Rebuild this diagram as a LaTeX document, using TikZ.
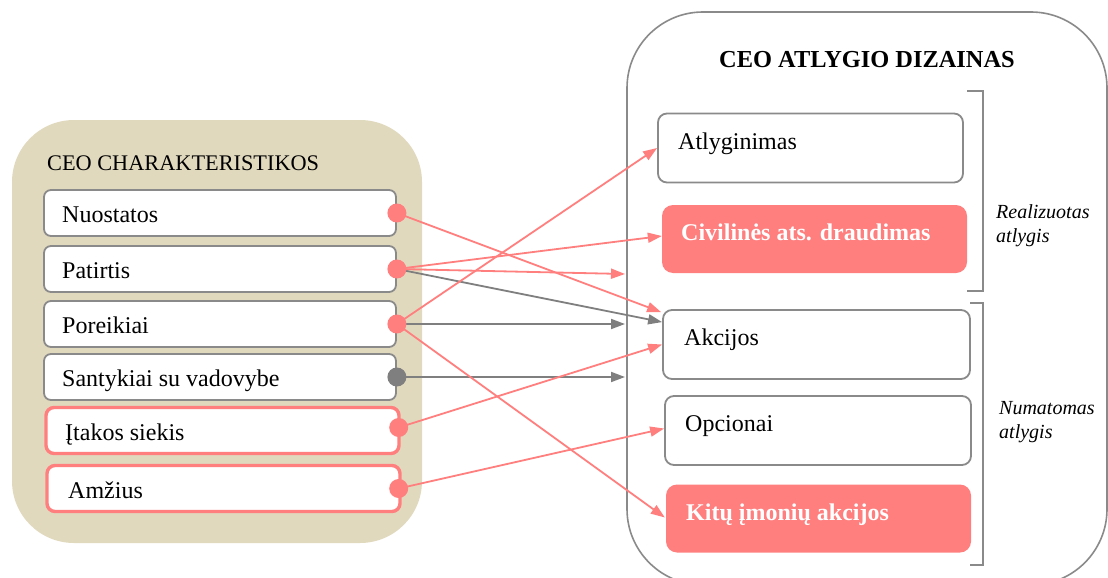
\documentclass[tikz,border=0pt]{standalone}
\usepackage{fontspec}
\setmainfont{Liberation Serif}
\usetikzlibrary{arrows.meta,calc}

\definecolor{panelbeige}{HTML}{E1D9BE}
\definecolor{accent}{HTML}{FF7F7F}
\definecolor{linegray}{HTML}{7F7F7F}
\definecolor{framegray}{HTML}{8A8A8A}

\tikzset{
  charbox/.style={draw=framegray, line width=1.8, fill=white, rounded corners=7,
    minimum width=352, minimum height=46, inner sep=0},
  keybox/.style={draw=accent, line width=3.4, fill=white, rounded corners=8,
    minimum width=353, minimum height=46, inner sep=0},
  paybox/.style={draw=framegray, line width=1.8, fill=white, rounded corners=9,
    minimum height=69, inner sep=0},
  hotbox/.style={fill=accent, rounded corners=11, minimum height=68, inner sep=0},
  boxtext/.style={font=\fontsize{24}{28}\selectfont, inner sep=0, anchor=base west},
  hottext/.style={font=\fontsize{24}{28}\selectfont\bfseries, text=white, inner sep=0, anchor=base west},
  sidetext/.style={font=\fontsize{20}{24}\selectfont\itshape, inner sep=0, anchor=base west},
  pinkarrow/.style={draw=accent, line width=1.8, -{Triangle[length=14,width=10]}},
  grayarrow/.style={draw=linegray, line width=1.8, -{Triangle[length=14,width=10]}},
  pinkdot/.style={circle, fill=accent, minimum size=19, inner sep=0},
  graydot/.style={circle, fill=linegray, minimum size=19, inner sep=0},
  bracketline/.style={draw=framegray, line width=1.6},
}

\begin{document}
\begin{tikzpicture}[x=1pt, y=-1pt]
\useasboundingbox (0,0) rectangle (1108,578);

% left panel: CEO characteristics
\fill[panelbeige, rounded corners=62] (12,120) rectangle (422,543);
\node[font=\fontsize{22.3}{26}\selectfont, inner sep=0, anchor=base west] (lefttitle) at (47,170) {CEO CHARAKTERISTIKOS};

\node[charbox] (nuo) at (220,213) {};
\node[charbox] (pat) at (220,269) {};
\node[charbox] (por) at (220,324) {};
\node[charbox] (san) at (220,377) {};
\node[keybox]  (ita) at (222.5,430.5) {};
\node[keybox]  (amz) at (223.5,488.5) {};

\node[boxtext] (nuot) at (62,222) {Nuostatos};
\node[boxtext] (patt) at (62,278) {Patirtis};
\node[boxtext] (port) at (62,333) {Poreikiai};
\node[boxtext] (sant) at (62,386) {Santykiai su vadovybe};
\node[boxtext] (itat) at (65,440) {Įtakos siekis};
\node[boxtext] (amzt) at (68,498) {Amžius};

% right panel: CEO pay design
\draw[draw=framegray, line width=1.6, rounded corners=76] (627,12) rectangle (1107,585);
\node[font=\fontsize{24.4}{28}\selectfont\bfseries, inner sep=0, anchor=base] (righttitle) at (867,67) {CEO ATLYGIO DIZAINAS};

\node[paybox, minimum width=305] (atl) at (810.5,148) {};
\node[hotbox, minimum width=305] (civ) at (814.5,239) {};
\node[paybox, minimum width=307] (akc) at (816.5,344.5) {};
\node[paybox, minimum width=306] (opc) at (818,430.5) {};
\node[hotbox, minimum width=305] (kit) at (818.5,518.5) {};

\node[boxtext] (atlt) at (678,149) {Atlyginimas};
\node[hottext] (civt) at (681,240) {Civilinės ats. draudimas};
\node[boxtext] (akct) at (684,345) {Akcijos};
\node[boxtext] (opct) at (685,431) {Opcionai};
\node[hottext] (kitt) at (686,520) {Kitų įmonių akcijos};

% group brackets
\draw[bracketline] (967,91) -- (983,91) -- (983,291) -- (967,291);
\draw[bracketline] (970,303) -- (983,303) -- (983,565) -- (970,565);
\node[sidetext] (real1) at (996,218) {Realizuotas};
\node[sidetext] (real2) at (996,242) {atlygis};
\node[sidetext] (num1) at (999,414) {Numatomas};
\node[sidetext] (num2) at (999,438) {atlygis};

% connector start points on the right edges of the left boxes
\coordinate (s1) at (nuo.east);
\coordinate (s2) at (pat.east);
\coordinate (s3) at (por.east);
\coordinate (s4) at (san.east);
\coordinate (s5) at ($(ita.east)+(-2,-3)$);
\coordinate (s6) at ($(amz.east)+(-3,0)$);

% free arrow ends at the panel edge
\coordinate (edgeA) at (625,274);
\coordinate (edgeB) at (625,324);
\coordinate (edgeC) at (625,377);

% connectors
\draw[grayarrow] (s2) -- ($(akc.north west)+(0,13)$);
\draw[grayarrow] (s3) -- (edgeB);
\draw[grayarrow] (s4) -- (edgeC);
\draw[pinkarrow] (s1) -- ($(akc.north west)+(-1,3)$);
\draw[pinkarrow] (s2) -- ($(civ.west)+(0,-3)$);
\draw[pinkarrow] (s2) -- (edgeA);
\draw[pinkarrow] (s3) -- (atl.west);
\draw[pinkarrow] (s3) -- ($(kit.west)+(-1,-1)$);
\draw[pinkarrow] (s5) -- (akc.west);
\draw[pinkarrow] (s6) -- ($(opc.west)+(0,-2)$);

% connector start dots
\node[pinkdot] (d1) at (s1) {};
\node[pinkdot] (d2) at (s2) {};
\node[pinkdot] (d3) at (s3) {};
\node[graydot] (d4) at (s4) {};
\node[pinkdot] (d5) at (s5) {};
\node[pinkdot] (d6) at (s6) {};
\end{tikzpicture}
\end{document}
